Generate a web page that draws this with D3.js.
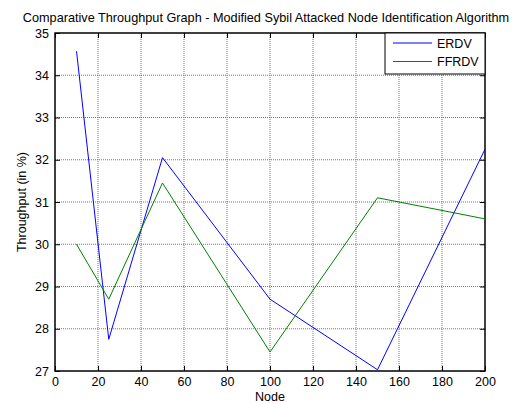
<!DOCTYPE html>
<html>
<head>
<meta charset="utf-8">
<script src="https://d3js.org/d3.v7.min.js"></script>
<style>
  body { margin: 0; background: #fff; }
  text { font-family: "Liberation Sans", Arial, sans-serif; }
</style>
</head>
<body>
<div id="chart"></div>
<script>
// data
var nodes = [10, 25, 50, 100, 150, 200];
var erdv = [34.57, 27.75, 32.05, 28.7, 27.03, 32.25];
var ffrdv = [30.0, 28.7, 31.45, 27.45, 31.1, 30.6];
var seriesNames = ["ERDV", "FFRDV"];
var seriesColors = ["#0000ff", "#008000"];
var xTicks = [0, 20, 40, 60, 80, 100, 120, 140, 160, 180, 200];
var yTicks = [27, 28, 29, 30, 31, 32, 33, 34, 35];

var svgWidth = 512;
var svgHeight = 403;
var margin = { top: 33, right: 27, bottom: 32, left: 55 };
var width = svgWidth - margin.left - margin.right;
var height = svgHeight - margin.top - margin.bottom;

var svg = d3.select("#chart").append("svg")
  .attr("width", svgWidth)
  .attr("height", svgHeight);

var g = svg.append("g")
  .attr("transform", `translate(${margin.left}, ${margin.top})`);

var x = d3.scaleLinear().domain([0, 200]).range([0, width]);
var y = d3.scaleLinear().domain([27, 35]).range([height, 0]);

// grid
g.append("g").selectAll("line")
  .data(xTicks.slice(1, -1))
  .enter().append("line")
  .attr("x1", d => x(d)).attr("x2", d => x(d))
  .attr("y1", 0).attr("y2", height)
  .attr("stroke", "#777").attr("stroke-width", 1)
  .attr("stroke-dasharray", "1,1");

g.append("g").selectAll("line")
  .data(yTicks.slice(1, -1))
  .enter().append("line")
  .attr("x1", 0).attr("x2", width)
  .attr("y1", d => y(d)).attr("y2", d => y(d))
  .attr("stroke", "#777").attr("stroke-width", 1)
  .attr("stroke-dasharray", "1,1");

// axes (ticks inside, matlab style)
var bottomAxis = d3.axisBottom(x).tickValues(xTicks).tickSizeInner(-5).tickSizeOuter(0).tickPadding(6);
var leftAxis = d3.axisLeft(y).tickValues(yTicks).tickSizeInner(-5).tickSizeOuter(0).tickPadding(6);
var topAxis = d3.axisTop(x).tickValues(xTicks).tickSizeInner(-5).tickSizeOuter(0).tickFormat("");
var rightAxis = d3.axisRight(y).tickValues(yTicks).tickSizeInner(-5).tickSizeOuter(0).tickFormat("");

g.append("g").attr("transform", `translate(0, ${height})`).call(bottomAxis);
g.append("g").call(leftAxis);
g.append("g").call(topAxis);
g.append("g").attr("transform", `translate(${width}, 0)`).call(rightAxis);

g.selectAll(".tick text").attr("font-size", 12.5).attr("fill", "#000")
  .style("font-family", "'Liberation Sans', Arial, sans-serif");
g.selectAll(".tick line").attr("stroke", "#000");
g.selectAll(".domain").remove();

g.append("rect")
  .attr("width", width).attr("height", height)
  .attr("fill", "none").attr("stroke", "#000").attr("stroke-width", 1.5);

// lines
var line = d3.line()
  .x((d, i) => x(nodes[i]))
  .y(d => y(d));

[erdv, ffrdv].forEach(function(vals, i) {
  g.append("path")
    .attr("d", line(vals))
    .attr("fill", "none")
    .attr("stroke", seriesColors[i])
    .attr("stroke-width", 1);
});

// legend
var lg = g.append("g").attr("transform", `translate(${width - 100}, 0)`);
lg.append("rect")
  .attr("width", 100).attr("height", 41)
  .attr("fill", "#fff").attr("stroke", "#000").attr("stroke-width", 1);
seriesNames.forEach(function(name, i) {
  var yy = 10 + i * 18.5;
  lg.append("line")
    .attr("x1", 8).attr("x2", 47)
    .attr("y1", yy).attr("y2", yy)
    .attr("stroke", seriesColors[i]);
  lg.append("text")
    .attr("x", 52).attr("y", yy + 4.5)
    .attr("font-size", 12.5)
    .text(name);
});

// title and axis labels
svg.append("text")
  .attr("x", margin.left + width / 2 - 4)
  .attr("y", 22)
  .attr("text-anchor", "middle")
  .attr("font-size", 12.7)
  .text("Comparative Throughput Graph - Modified Sybil Attacked Node Identification Algorithm");

svg.append("text")
  .attr("x", margin.left + width / 2)
  .attr("y", 401)
  .attr("text-anchor", "middle")
  .attr("font-size", 12.5)
  .text("Node");

svg.append("text")
  .attr("transform", "rotate(-90)")
  .attr("x", -(margin.top + height / 2))
  .attr("y", 26)
  .attr("text-anchor", "middle")
  .attr("font-size", 12.5)
  .text("Throughput (in %)");
</script>
</body>
</html>
